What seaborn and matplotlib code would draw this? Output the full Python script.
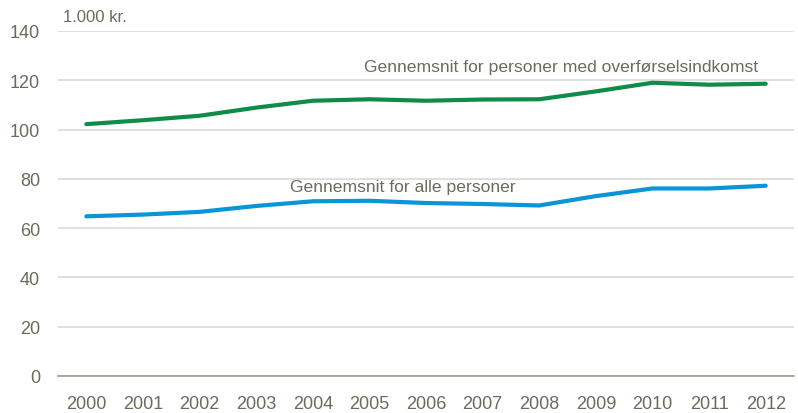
import matplotlib
matplotlib.use("Agg")
import matplotlib.pyplot as plt
import pandas as pd
import seaborn as sns

# Data
years = list(range(2000, 2013))
overfoersel = [102.2, 103.8, 105.6, 108.9, 111.7, 112.3, 111.7, 112.2, 112.3, 115.5, 119.0, 118.2, 118.6]
alle = [64.8, 65.5, 66.6, 69.0, 70.9, 71.1, 70.2, 69.8, 69.2, 73.0, 76.1, 76.1, 77.2]
label_over = "Gennemsnit for personer med overførselsindkomst"
label_alle = "Gennemsnit for alle personer"

df = pd.DataFrame({
    "year": years * 2,
    "value": overfoersel + alle,
    "serie": [label_over] * len(years) + [label_alle] * len(years),
})

sns.set_style("white")
plt.rcParams["font.family"] = ["Liberation Sans", "DejaVu Sans"]

text_col = "#6b6b5c"
W, H = 798, 414
fig = plt.figure(figsize=(W / 100, H / 100), dpi=100)
ax = fig.add_axes([58 / W, 1 - 377 / H, (794 - 58) / W, (377 - 32) / H])

sns.lineplot(data=df, x="year", y="value", hue="serie",
             palette={label_over: "#108c49", label_alle: "#0a95d6"},
             linewidth=3, legend=False, ax=ax, solid_capstyle="round")

ax.set_xlim(1999.5, 2012.5)
ax.set_ylim(0, 140)
ax.set_yticks(range(0, 141, 20))
ax.set_xticks(years)
ax.set_xlabel("")
ax.set_ylabel("")
ax.grid(axis="y", color="#d9d9d4", linewidth=1.2)
ax.set_axisbelow(True)
for s in ["left", "right", "top"]:
    ax.spines[s].set_visible(False)
ax.spines["bottom"].set_color("#9b9b8c")
ax.spines["bottom"].set_linewidth(1.2)
ax.tick_params(axis="both", length=0, labelsize=13, colors=text_col)
ax.tick_params(axis="y", pad=13)
ax.tick_params(axis="x", pad=14)

ax.text(2004.9, 125.6, label_over, fontsize=12.6, color=text_col, ha="left", va="center")
ax.text(2003.6, 76.7, label_alle, fontsize=12.6, color=text_col, ha="left", va="center")
fig.text(63 / W, 1 - 17 / H, "1.000 kr.", fontsize=12, color=text_col, ha="left", va="center")

fig.savefig("out.png", dpi=100)
